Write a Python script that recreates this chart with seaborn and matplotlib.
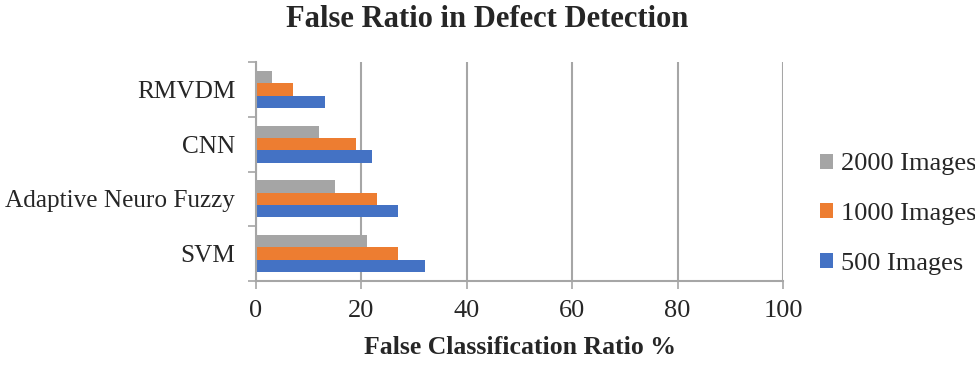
import matplotlib
matplotlib.use("Agg")
import matplotlib.pyplot as plt
import seaborn as sns
import pandas as pd

categories = ["RMVDM", "CNN", "Adaptive Neuro Fuzzy", "SVM"]
series_names = ["2000 Images", "1000 Images", "500 Images"]
vals_2000 = [3, 12, 15, 21]
vals_1000 = [7, 19, 23, 27]
vals_500 = [13, 22, 27, 32]
x_ticks = [0, 20, 40, 60, 80, 100]
colors = ["#A5A5A5", "#ED7D31", "#4472C4"]

rows = []
for name, vals in zip(series_names, [vals_2000, vals_1000, vals_500]):
    for c, v in zip(categories, vals):
        rows.append({"Method": c, "Series": name, "Value": v})
df = pd.DataFrame(rows)

sns.set_style("white")
plt.rcParams["font.family"] = ["Liberation Serif", "DejaVu Serif"]

fig = plt.figure(figsize=(9.75, 3.65), dpi=100)
ax = fig.add_axes([256/975, 1 - 281/365, (783-256)/975, (281-62)/365])

sns.barplot(data=df, y="Method", x="Value", hue="Series", order=categories,
            hue_order=series_names, palette=colors, orient="h", width=0.68,
            ax=ax, saturation=1, errorbar=None, linewidth=0)

ax.set_xlim(0, 100)
ax.set_xticks(x_ticks)
ax.set_xticklabels([str(t) for t in x_ticks], fontsize=19)
ax.set_ylim(3.5, -0.5)
ax.set_yticks(range(len(categories)))
ax.set_yticklabels(categories, fontsize=18.2)
ax.set_yticks([-0.5, 0.5, 1.5, 2.5, 3.5], minor=True)
ax.tick_params(axis="y", which="major", length=0, pad=15)
ax.tick_params(axis="y", which="minor", length=6, color="#A6A6A6", width=1.2, direction="out", left=True)
ax.tick_params(axis="x", which="major", length=6, color="#A6A6A6", width=1.2, direction="out", bottom=True, pad=8)

ax.grid(axis="x", color="#A6A6A6", linewidth=1.5)
ax.set_axisbelow(True)
for s in ["top", "right"]:
    ax.spines[s].set_visible(False)
for s in ["left", "bottom"]:
    ax.spines[s].set_color("#A6A6A6")
    ax.spines[s].set_linewidth(1.5)

ax.set_ylabel("")
ax.set_xlabel("False Classification Ratio %", fontsize=18.5, fontweight="bold", labelpad=10)
fig.suptitle("False Ratio in Defect Detection", fontsize=22, fontweight="bold", y=0.985)

leg = ax.legend(loc="center left", bbox_to_anchor=(1.025, 0.305), frameon=False,
                fontsize=19, handlelength=0.5, handleheight=0.5, handletextpad=0.3,
                labelspacing=1.05)

fig.savefig("out.png", dpi=100)
